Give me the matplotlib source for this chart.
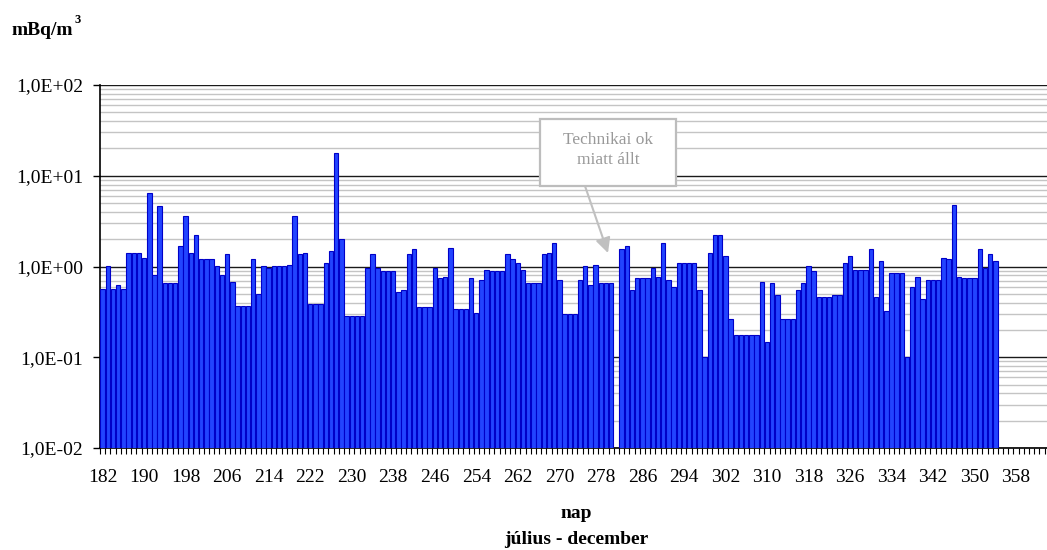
import matplotlib
matplotlib.use("Agg")
import matplotlib.pyplot as plt
import numpy as np
from matplotlib.patches import Rectangle
from matplotlib.ticker import LogLocator, FixedLocator, FuncFormatter, NullFormatter

plt.rcParams["font.family"] = ["Liberation Serif", "DejaVu Serif"]

# categories: day of year, July 1 (182) .. Dec 31 (365)
first_day, last_day = 182, 365
label_days = list(range(182, 366, 8))

# daily concentration, mBq/m3 (None = sampler stopped)
conc = [
    0.57, 1.0, 0.57, 0.62, 0.57, 1.41, 1.41, 1.41, 1.25, 6.5,
    0.80, 4.6, 0.65, 0.65, 0.65, 1.70, 3.56, 1.41, 2.21, 1.20,
    1.20, 1.20, 1.0, 0.80, 1.36, 0.68, 0.37, 0.37, 0.37, 1.20,
    0.50, 1.0, 0.95, 1.0, 1.0, 1.0, 1.04, 3.56, 1.36, 1.42,
    0.385, 0.385, 0.385, 1.10, 1.49, 17.9, 2.03, 0.283, 0.283, 0.283,
    0.283, 0.96, 1.36, 0.96, 0.88, 0.88, 0.88, 0.52, 0.55, 1.36,
    1.56, 0.353, 0.353, 0.353, 0.96, 0.74, 0.77, 1.61, 0.339, 0.339,
    0.339, 0.74, 0.31, 0.71, 0.92, 0.88, 0.88, 0.88, 1.36, 1.20,
    1.09, 0.92, 0.65, 0.65, 0.65, 1.36, 1.42, 1.83, 0.71, 0.30,
    0.30, 0.30, 0.71, 1.0, 0.62, 1.04, 0.65, 0.65, 0.65, None,
    1.56, 1.70, 0.55, 0.74, 0.74, 0.74, 0.96, 0.77, 1.83, 0.71,
    0.59, 1.09, 1.09, 1.09, 1.09, 0.55, 0.10, 1.42, 2.21, 2.21,
    1.30, 0.26, 0.175, 0.175, 0.175, 0.175, 0.175, 0.68, 0.148, 0.65,
    0.48, 0.26, 0.26, 0.26, 0.55, 0.65, 1.0, 0.88, 0.46, 0.46,
    0.46, 0.48, 0.48, 1.09, 1.30, 0.92, 0.92, 0.92, 1.56, 0.46,
    1.15, 0.32, 0.84, 0.84, 0.84, 0.10, 0.59, 0.77, 0.44, 0.71,
    0.71, 0.71, 1.25, 1.20, 4.8, 0.77, 0.74, 0.74, 0.74, 1.56,
    0.96, 1.36, 1.15,
]

days = np.arange(first_day, first_day + len(conc))
vals = np.array([np.nan if v is None else v for v in conc], dtype=float)
ok = ~np.isnan(vals)

W, H = 1047, 550
fig = plt.figure(figsize=(W / 100, H / 100), dpi=100)
ax = fig.add_axes([100 / W, 102 / H, 955 / W, 363 / H])

ax.bar(days[ok], vals[ok], width=0.85, bottom=1e-3, color="#2244ff",
       edgecolor="#0000c8", linewidth=0.8, zorder=3)

ax.set_yscale("log")
ax.set_ylim(0.01, 100)
ax.set_xlim(first_day - 0.5, last_day + 0.5)

# y axis: decades labelled Excel style, light minor grid
ax.yaxis.set_major_locator(LogLocator(base=10, numticks=10))
ax.yaxis.set_minor_locator(LogLocator(base=10, subs=range(2, 10), numticks=20))
ax.yaxis.set_major_formatter(FuncFormatter(lambda v, p: f"{v:.1E}".replace(".", ",")))
ax.yaxis.set_minor_formatter(NullFormatter())
ax.grid(which="minor", axis="y", color="#c4c4c4", lw=1.0, zorder=0)
ax.grid(which="major", axis="y", color="#1a1a1a", lw=1.0, zorder=1)
ax.set_axisbelow(True)
ax.tick_params(axis="y", which="major", length=5, width=1, pad=7, labelsize=14)
ax.tick_params(axis="y", which="minor", length=0)

# x axis: a tick per day, label every 8th day
ax.xaxis.set_major_locator(FixedLocator(label_days))
ax.xaxis.set_minor_locator(FixedLocator(np.arange(first_day - 0.5, last_day + 1)))
ax.tick_params(axis="x", which="major", length=0, pad=15, labelsize=14)
ax.tick_params(axis="x", which="minor", length=4, width=0.8)

for s in ("top", "right"):
    ax.spines[s].set_visible(False)
for s in ("left", "bottom"):
    ax.spines[s].set_color("black")
    ax.spines[s].set_linewidth(1.2)

# unit label with raised 3
t = fig.text(12 / W, 1 - 35 / H, "mBq/m", fontsize=14, fontweight="bold",
             ha="left", va="baseline")
ax.annotate("3", xy=(1, 1), xycoords=t, xytext=(1, -1), textcoords="offset points",
            fontsize=9, fontweight="bold", ha="left", va="baseline",
            annotation_clip=False)

# x axis title
fig.text(576 / W, 1 - 514 / H, "nap", fontsize=14, fontweight="bold",
         ha="center", va="center")
fig.text(576 / W, 1 - 540 / H, "július - december", fontsize=14, fontweight="bold",
         ha="center", va="center")

# callout for the missing day
box = Rectangle((540 / W, 1 - 186 / H), 136 / W, 67 / H, transform=fig.transFigure,
                facecolor="white", edgecolor="#bdbdbd", lw=1.6, zorder=5)
fig.add_artist(box)
fig.text(608 / W, 1 - 150 / H, "Technikai ok\nmiatt állt", fontsize=12.5,
         color="#999999", ha="center", va="center", linespacing=1.35, zorder=6)
ax.annotate("", xy=(608, H - 253), xycoords="figure pixels",
            xytext=(585, H - 186), textcoords="figure pixels",
            arrowprops=dict(arrowstyle="-|>,head_length=0.9,head_width=0.45",
                            color="#c0c0c0", lw=1.5, shrinkA=0, shrinkB=0),
            annotation_clip=False)

fig.savefig("out.png", dpi=100)
